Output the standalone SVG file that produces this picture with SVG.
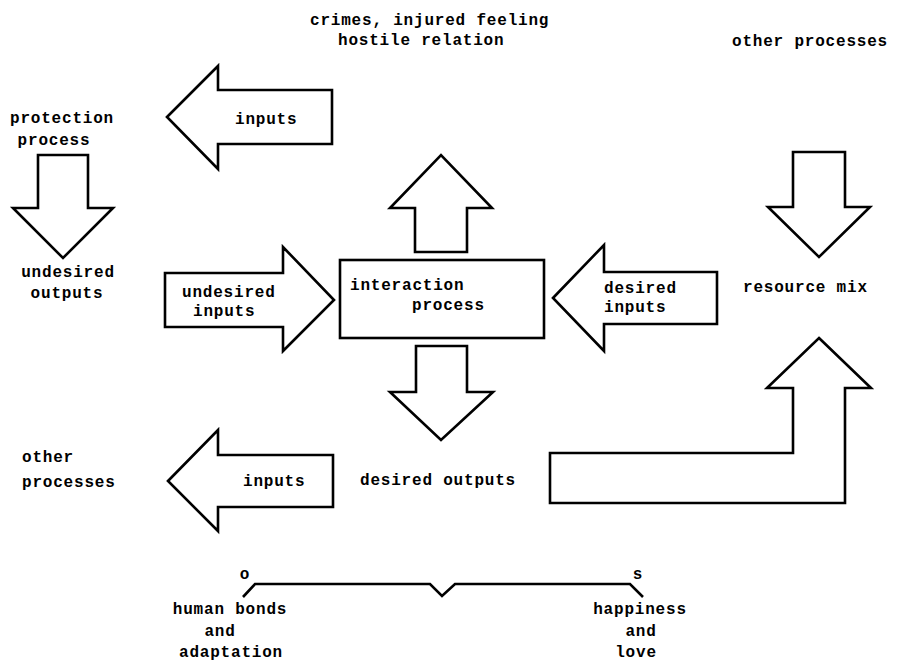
<svg xmlns="http://www.w3.org/2000/svg" width="901" height="662" viewBox="0 0 901 662">
  <style>
    .shape { fill: #ffffff; stroke: #000000; stroke-width: 2.6; stroke-linejoin: miter; }
    .line { fill: none; stroke: #000000; stroke-width: 2.6; stroke-linejoin: miter; }
    text { font-family: "Liberation Mono", "DejaVu Sans Mono", monospace; font-weight: bold; font-size: 16px; letter-spacing: 0.8px; fill: #000000; }
    .mid { text-anchor: middle; }
  </style>
  <rect width="901" height="662" fill="#ffffff"/>

  <!-- free labels -->
  <g id="label-top">
    <text x="310" y="25">crimes, injured feeling</text>
    <text x="338" y="45">hostile relation</text>
  </g>

  <!-- interaction process -->
  <g id="interaction-process">
    <rect class="shape" x="340" y="260" width="204" height="78"/>
    <text x="350" y="290">interaction</text>
    <text x="412" y="310">process</text>
  </g>

  <g id="protection-process">
    <text class="mid" x="62" y="123">protection</text>
    <text class="mid" x="54" y="145">process</text>
  </g>

  <g id="undesired-outputs">
    <text class="mid" x="68" y="277">undesired</text>
    <text class="mid" x="67" y="298">outputs</text>
  </g>

  <g id="resource-mix">
    <text x="743" y="292">resource mix</text>
  </g>

  <g id="other-processes-right">
    <text x="732" y="46">other processes</text>
  </g>

  <g id="other-processes-left">
    <text x="22" y="462">other</text>
    <text x="22" y="487">processes</text>
  </g>

  <g id="desired-outputs">
    <text x="360" y="485">desired outputs</text>
  </g>

  <!-- block arrows -->
  <g id="connectors">
    <!-- inputs to protection process -->
    <g id="arrow-inputs-top">
      <polygon class="shape" points="167,117 218,66 218,90 332,90 332,144 218,144 218,169"/>
      <text x="235" y="124">inputs</text>
    </g>
    <!-- protection process down to undesired outputs -->
    <polygon id="arrow-protection-down" class="shape" points="38,155 88,155 88,208 113,208 63,258 13,208 38,208"/>
    <!-- interaction process up -->
    <polygon id="arrow-interaction-up" class="shape" points="415,252 415,208 390,208 441,155 492,208 467,208 467,252"/>
    <!-- undesired inputs into interaction -->
    <g id="arrow-undesired-inputs">
      <polygon class="shape" points="165,273 283,273 283,247 334,300 283,351 283,327 165,327"/>
      <text x="182" y="297">undesired</text>
      <text x="193" y="316">inputs</text>
    </g>
    <!-- desired inputs into interaction -->
    <g id="arrow-desired-inputs">
      <polygon class="shape" points="553,298 604,245 604,272 717,272 717,324 604,324 604,351"/>
      <text x="604" y="293">desired</text>
      <text x="604" y="312">inputs</text>
    </g>
    <!-- interaction down to desired outputs -->
    <polygon id="arrow-interaction-down" class="shape" points="416,346 467,346 467,392 493,392 441,440 390,392 416,392"/>
    <!-- other processes down to resource mix -->
    <polygon id="arrow-other-down" class="shape" points="793,152 845,152 845,207 870,207 819,257 768,207 793,207"/>
    <!-- desired outputs back up to resource mix -->
    <polygon id="arrow-outputs-return" class="shape" points="819,338 871,388 845,388 845,503 550,503 550,453 793,453 793,388 767,388"/>
    <!-- inputs to other processes -->
    <g id="arrow-inputs-bottom">
      <polygon class="shape" points="168,481 218,430 218,455 333,455 333,507 218,507 218,531"/>
      <text x="243" y="486">inputs</text>
    </g>
  </g>

  <!-- scale brace -->
  <g id="scale">
    <polyline class="line" points="243,597 255,584 430,584 442,596 455,584 630,584 643,597"/>
    <text class="mid" x="245" y="579">o</text>
    <text class="mid" x="638" y="579">s</text>
    <text class="mid" x="230" y="614">human bonds</text>
    <text class="mid" x="220" y="636">and</text>
    <text class="mid" x="231" y="657">adaptation</text>
    <text class="mid" x="640" y="614">happiness</text>
    <text class="mid" x="641" y="636">and</text>
    <text class="mid" x="636" y="657">love</text>
  </g>
</svg>
